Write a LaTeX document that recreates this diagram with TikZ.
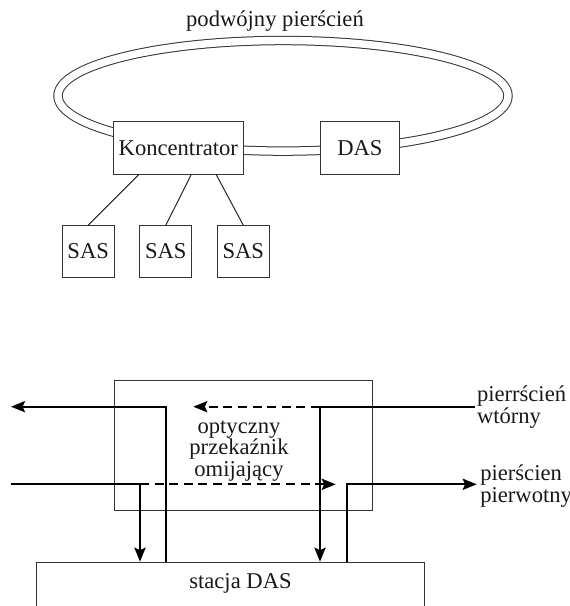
\documentclass[tikz,border=0pt]{standalone}
\usepackage{fontspec}
\setmainfont{Liberation Serif}
\usetikzlibrary{arrows.meta}

\tikzset{
  devbox/.style={draw=black!80, line width=0.5pt, fill=white, inner sep=0pt},
  link/.style={draw=black!85, line width=0.5pt},
  fibre/.style={black, line width=1pt},
  bypass/.style={fibre, dash pattern=on 4.5pt off 2.8pt},
  arrowed/.style={-{Stealth[length=7pt,width=5.6pt,inset=1.2pt]}}
}

\begin{document}
\begin{tikzpicture}[x=0.5pt, y=-0.5pt, every node/.style={font=\fontsize{11.3}{10.8}\selectfont, text=black!90}]
\useasboundingbox (0,0) rectangle (569,606);
\clip (0,0) rectangle (569,606);
% upper picture: dual ring
\node[anchor=base] (title) at (275,26.7) {podwójny pierścień};
\draw[black!80, line width=0.5pt, double, double distance=3.7pt] (283,95.8) ellipse [x radius=225, y radius=55.3];
\node[devbox, minimum width=65pt, minimum height=26.2pt] (konc) at (178.3,147.9) {Koncentrator};
\node[devbox, minimum width=39.2pt, minimum height=26.2pt] (das) at (359.9,147.9) {DAS};
\node[devbox, minimum width=26pt, minimum height=25.8pt] (sas1) at (88.2,251.5) {SAS};
\node[devbox, minimum width=26pt, minimum height=25.8pt] (sas2) at (165.8,251.5) {SAS};
\node[devbox, minimum width=26pt, minimum height=25.8pt] (sas3) at (243.3,251.5) {SAS};
\draw[link] ([xshift=13pt]konc.south west) -- (sas1.north);
\draw[link] ([xshift=39.2pt]konc.south west) -- (sas2.north);
\draw[link] ([xshift=51.7pt]konc.south west) -- (sas3.north);
% lower picture: bypass relay
\node[devbox, fill=none, minimum width=129.35pt, minimum height=64.65pt] (relay) at (243.35,445.35) {};
\node[align=center, inner sep=0pt] (relaytxt) at (239,451) {optyczny\\przekaźnik\\omijający};
\node[devbox, minimum width=194.15pt, minimum height=39.15pt, anchor=north] (station) at (230.15,561.7) {};
\node[anchor=base] (stationtxt) at (240.5,588) {stacja DAS};
\node[anchor=west, align=left, inner sep=0.8pt] (seclbl) at (475,407) {pierrścień\\[0.6pt]wtórny};
\node[anchor=west, align=left, inner sep=1.6pt] (prilbl) at (476.7,486) {pierścien\\pierwotny};
\coordinate (secsw) at (320,406.7);
\coordinate (secbyp) at (193.3,406.7);
\coordinate (secout) at (11,406.7);
\coordinate (priin) at (11,484.3);
\coordinate (prisw) at (140,484.3);
\coordinate (pribyp) at (335.7,484.3);
\draw[fibre, arrowed] (seclbl.west |- secsw) -- (secsw) -- (secsw |- station.north);
\draw[bypass, arrowed] (secsw) -- (secbyp);
\draw[fibre, arrowed] (station.north -| 166,0) |- (secout);
\draw[fibre, arrowed] (priin) -- (prisw) -- (prisw |- station.north);
\draw[bypass, arrowed] (prisw) -- (pribyp);
\draw[fibre, arrowed] (station.north -| 347,0) |- (prilbl.west |- pribyp);
\end{tikzpicture}
\end{document}
